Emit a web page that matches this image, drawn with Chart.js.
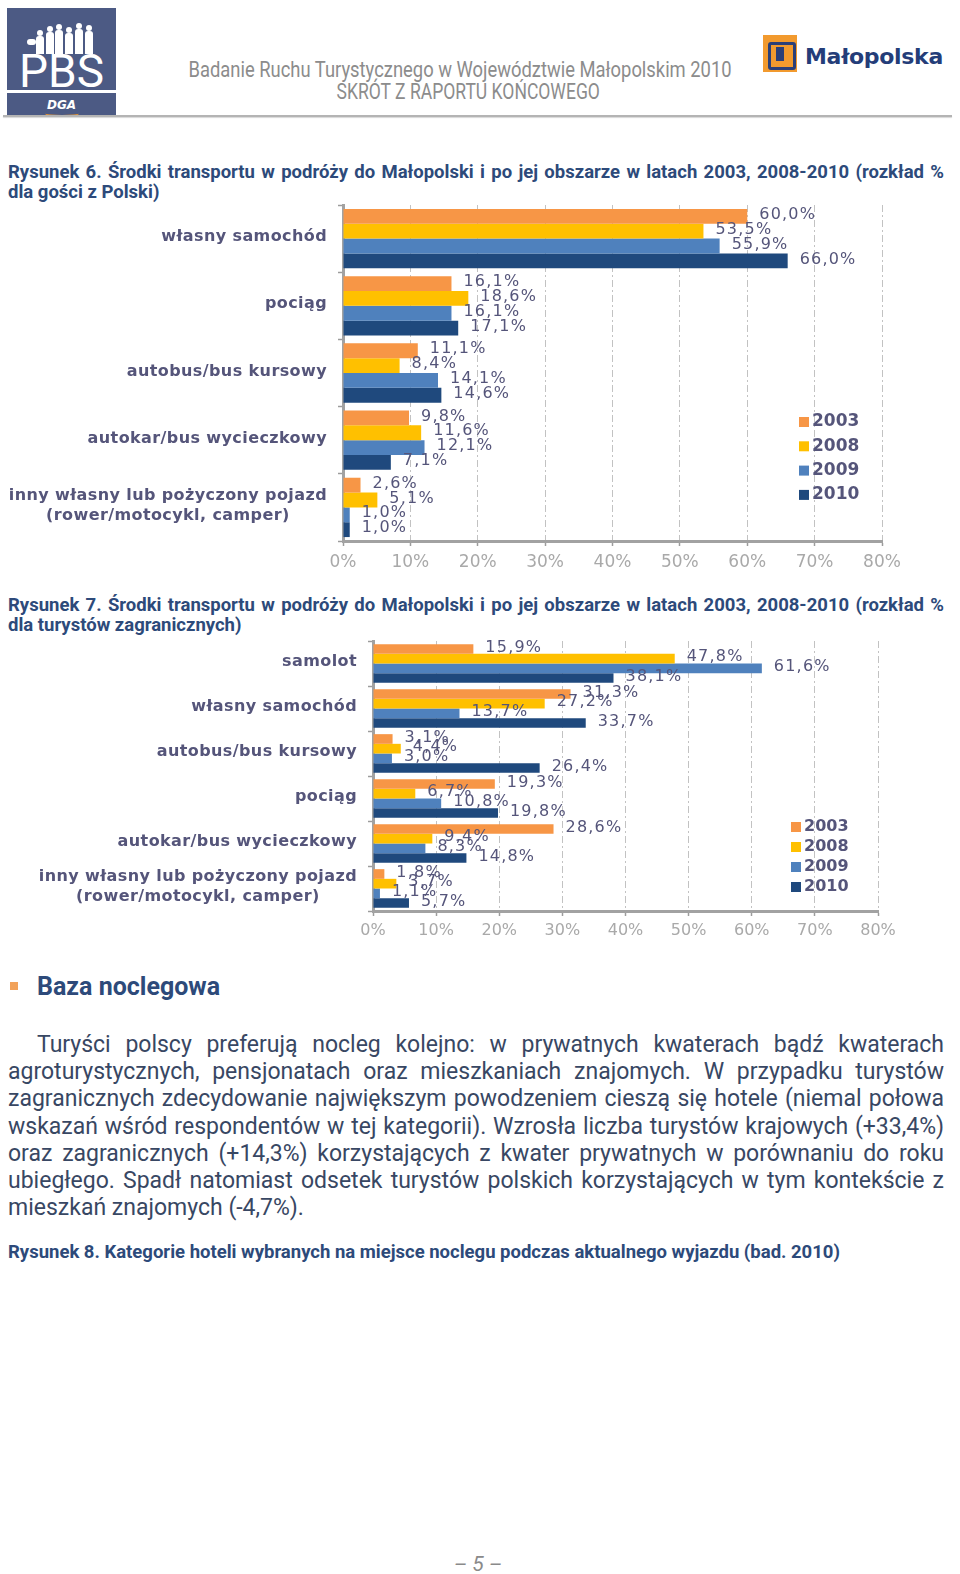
<!DOCTYPE html>
<html lang="pl">
<head>
<meta charset="utf-8">
<title>Badanie Ruchu Turystycznego w Województwie Małopolskim 2010</title>
<script src="https://cdn.jsdelivr.net/npm/chart.js@4.4.1/dist/chart.umd.min.js"></script>
<style>
html, body { margin: 0; padding: 0; background: #fff; }
body { width: 960px; height: 1574px; position: relative; overflow: hidden;
       font-family: "Roboto", "Liberation Sans", sans-serif; }
.abs { position: absolute; }
.hdr { width: 700px; text-align: center; color: #8c8c8c; font-size: 22px; line-height: 22px; }
.fit { display: inline-block; white-space: nowrap; transform-origin: 50% 50%; }
.title { left: 8px; width: 936px; color: #2d4a7a; font-weight: bold; font-size: 18.5px; line-height: 20px; }
.jl { text-align: justify; text-align-last: justify; }
.body { left: 8px; width: 936px; color: #384763; font-size: 23px; line-height: 27.2px; }
.chartbox { left: 0; width: 960px; }
</style>
</head>
<body>

<!-- header -->
<div class="abs" style="left:7px;top:8px;width:109px;height:109px;background:#4c5a84;overflow:hidden;">
  <div class="abs" style="left:18px;top:14px;width:74px;height:32px;">
    <div class="abs" style="left:2px;top:17px;width:9px;height:6px;background:#fff;border-radius:3px;"></div>
    <div class="abs" style="left:12px;top:8px;width:6px;height:6px;background:#fff;border-radius:50%;"></div>
    <div class="abs" style="left:11px;top:14px;width:8px;height:18px;background:#fff;border-radius:3px 3px 0 0;"></div>
    <div class="abs" style="left:22px;top:4px;width:6px;height:6px;background:#fff;border-radius:50%;"></div>
    <div class="abs" style="left:21px;top:10px;width:8px;height:22px;background:#fff;border-radius:3px 3px 0 0;"></div>
    <div class="abs" style="left:31px;top:2px;width:6px;height:6px;background:#fff;border-radius:50%;"></div>
    <div class="abs" style="left:30px;top:8px;width:8px;height:24px;background:#fff;border-radius:3px 3px 0 0;"></div>
    <div class="abs" style="left:41px;top:5px;width:6px;height:6px;background:#fff;border-radius:50%;"></div>
    <div class="abs" style="left:40px;top:11px;width:8px;height:21px;background:#fff;border-radius:3px 3px 0 0;"></div>
    <div class="abs" style="left:51px;top:1px;width:6px;height:6px;background:#fff;border-radius:50%;"></div>
    <div class="abs" style="left:50px;top:7px;width:8px;height:25px;background:#fff;border-radius:3px 3px 0 0;"></div>
    <div class="abs" style="left:61px;top:3px;width:6px;height:6px;background:#fff;border-radius:50%;"></div>
    <div class="abs" style="left:60px;top:9px;width:8px;height:23px;background:#fff;border-radius:3px 3px 0 0;"></div>
  </div>
  <div class="abs" style="left:0;top:38px;width:109px;text-align:center;color:#fff;font-size:46px;line-height:50px;">PBS</div>
  <div class="abs" style="left:0;top:82px;width:109px;height:3px;background:#fff;"></div>
  <div class="abs" style="left:0;top:88px;width:109px;text-align:center;color:#fff;font-family:'DejaVu Sans',sans-serif;font-weight:bold;font-style:italic;font-size:12px;line-height:18px;">DGA</div>
  <div class="abs" style="left:38px;top:102px;width:34px;height:5px;border-bottom:2px solid #f29a2e;border-radius:0 0 50% 50%;"></div>
</div>

<div class="abs hdr" style="left:110px;top:59px;"><span class="fit" data-w="543">Badanie Ruchu Turystycznego w Województwie Małopolskim 2010</span></div>
<div class="abs hdr" style="left:118px;top:81px;"><span class="fit" data-w="263">SKRÓT Z RAPORTU KOŃCOWEGO</span></div>

<div class="abs" style="left:763px;top:35px;width:34px;height:37px;background:#f29a2e;">
  <div class="abs" style="left:5px;top:7px;width:22px;height:22px;border:3px solid #2b3f78;border-radius:3px;"></div>
  <div class="abs" style="left:13px;top:12px;width:8px;height:14px;background:#2b3f78;"></div>
</div>
<div class="abs" style="left:805px;top:41px;color:#243d79;font-family:'DejaVu Sans',sans-serif;font-weight:bold;font-size:22px;line-height:32px;letter-spacing:-0.3px;">Małopolska</div>

<div class="abs" style="left:3px;top:115px;width:949px;height:2px;background:#b4b4b4;box-shadow:0 1px 1px #d8d8d8;"></div>

<!-- figure 6 -->
<div class="abs title" style="top:162px;">
  <div class="jl">Rysunek 6. Środki transportu w podróży do Małopolski i po jej obszarze w latach 2003, 2008-2010 (rozkład %</div>
  <div>dla gości z Polski)</div>
</div>
<div class="abs chartbox" style="top:197px;height:388px;"><canvas id="chartPl"></canvas></div>

<!-- figure 7 -->
<div class="abs title" style="top:595px;">
  <div class="jl">Rysunek 7. Środki transportu w podróży do Małopolski i po jej obszarze w latach 2003, 2008-2010 (rozkład %</div>
  <div>dla turystów zagranicznych)</div>
</div>
<div class="abs chartbox" style="top:633px;height:318px;"><canvas id="chartZg"></canvas></div>

<!-- text -->
<div class="abs" style="left:10px;top:982px;width:8px;height:8px;background:#f2a25a;"></div>
<div class="abs" style="left:37px;top:972px;color:#2d4a7a;font-weight:bold;font-size:25px;line-height:30px;">Baza noclegowa</div>

<div class="abs body" style="top:1031px;">
  <div class="jl" style="text-indent:29px;">Turyści polscy preferują nocleg kolejno: w prywatnych kwaterach bądź kwaterach</div>
  <div class="jl">agroturystycznych, pensjonatach oraz mieszkaniach znajomych. W przypadku turystów</div>
  <div class="jl">zagranicznych zdecydowanie największym powodzeniem cieszą się hotele (niemal połowa</div>
  <div class="jl">wskazań wśród respondentów w tej kategorii). Wzrosła liczba turystów krajowych (+33,4%)</div>
  <div class="jl">oraz zagranicznych (+14,3%) korzystających z kwater prywatnych w porównaniu do roku</div>
  <div class="jl">ubiegłego. Spadł natomiast odsetek turystów polskich korzystających w tym kontekście z</div>
  <div>mieszkań znajomych (-4,7%).</div>
</div>

<div class="abs title" style="top:1242px;">Rysunek 8. Kategorie hoteli wybranych na miejsce noclegu podczas aktualnego wyjazdu (bad. 2010)</div>

<div class="abs" style="left:430px;top:1552px;width:96px;text-align:center;color:#8a8a8a;font-style:italic;font-size:21px;line-height:24px;">– 5 –</div>

<script>
// squeeze header lines to the width they have in the report
document.querySelectorAll('.fit').forEach(function(el) {
    el.style.transform = 'scaleX(' + (el.dataset.w / el.offsetWidth) + ')';
});

// years and colours of the series
var years = ['2003', '2008', '2009', '2010'];
var colors = ['#F79646', '#FFC000', '#4F81BD', '#1F497D'];

// Rysunek 6 - goście z Polski
var plCategories = ['własny samochód', 'pociąg', 'autobus/bus kursowy', 'autokar/bus wycieczkowy',
                    ['inny własny lub pożyczony pojazd', '(rower/motocykl, camper)']];
var pl2003 = [60.0, 16.1, 11.1, 9.8, 2.6];
var pl2008 = [53.5, 18.6, 8.4, 11.6, 5.1];
var pl2009 = [55.9, 16.1, 14.1, 12.1, 1.0];
var pl2010 = [66.0, 17.1, 14.6, 7.1, 1.0];

// Rysunek 7 - turyści zagraniczni
var zgCategories = ['samolot', 'własny samochód', 'autobus/bus kursowy', 'pociąg', 'autokar/bus wycieczkowy',
                    ['inny własny lub pożyczony pojazd', '(rower/motocykl, camper)']];
var zg2003 = [15.9, 31.3, 3.1, 19.3, 28.6, 1.8];
var zg2008 = [47.8, 27.2, 4.4, 6.7, 9.4, 3.7];
var zg2009 = [61.6, 13.7, 3.0, 10.8, 8.3, 1.1];
var zg2010 = [38.1, 33.7, 26.4, 19.8, 14.8, 5.7];

// axis: 0% .. 80% every 10
var axisMax = 80;
var axisStep = 10;

var textColor = '#55557a';
Chart.defaults.font.family = '"DejaVu Sans", Verdana, sans-serif';

function pct(v) {
    return v.toFixed(1).replace('.', ',') + '%';
}

// category labels, value labels and the legend inside the plot
function decor(legendDx, legendDy, legendStep, legendSize) {
    return {
        id: 'decor',
        afterDatasetsDraw: function(chart) {
            var ctx = chart.ctx;
            var area = chart.chartArea;
            var yScale = chart.scales.y;
            ctx.save();

            // category names
            ctx.fillStyle = textColor;
            ctx.font = 'bold 16px "DejaVu Sans"';
            ctx.letterSpacing = '0.4px';
            ctx.textBaseline = 'middle';
            var right = yScale.right - 16;
            chart.data.labels.forEach(function(lab, i) {
                var y = yScale.getPixelForValue(i) - 1.5;
                if (Array.isArray(lab)) {
                    var w = Math.max.apply(null, lab.map(function(l) { return ctx.measureText(l).width; }));
                    ctx.textAlign = 'center';
                    lab.forEach(function(line, j) {
                        ctx.fillText(line, right - w / 2, y + (j - (lab.length - 1) / 2) * 20);
                    });
                } else {
                    ctx.textAlign = 'right';
                    ctx.fillText(lab, right, y);
                }
            });

            // values next to bars
            ctx.font = '16px "DejaVu Sans"';
            ctx.letterSpacing = '1.2px';
            ctx.textAlign = 'left';
            chart.data.datasets.forEach(function(ds, i) {
                chart.getDatasetMeta(i).data.forEach(function(bar, j) {
                    ctx.fillText(pct(ds.data[j]), bar.x + 12, bar.y - 1.5);
                });
            });

            // legend
            ctx.font = 'bold ' + legendSize + 'px "DejaVu Sans"';
            ctx.letterSpacing = '0px';
            chart.data.datasets.forEach(function(ds, i) {
                var lx = area.right + legendDx;
                var ly = area.top + legendDy + i * legendStep;
                ctx.fillStyle = ds.backgroundColor;
                ctx.fillRect(lx, ly - 5, 10, 10);
                ctx.fillStyle = textColor;
                ctx.fillText(ds.label, lx + 13, ly);
            });
            ctx.restore();
        }
    };
}

function makeChart(id, labels, series, opt) {
    return new Chart(document.getElementById(id), {
        type: 'bar',
        data: {
            labels: labels,
            datasets: series.map(function(s, i) {
                return {
                    label: years[i],
                    data: s,
                    backgroundColor: colors[i],
                    borderWidth: 0,
                    categoryPercentage: opt.catPct,
                    barPercentage: 1.0
                };
            })
        },
        options: {
            indexAxis: 'y',
            responsive: true,
            maintainAspectRatio: false,
            animation: false,
            layout: { padding: opt.padding },
            plugins: { legend: { display: false }, tooltip: { enabled: false } },
            scales: {
                x: {
                    min: 0,
                    max: axisMax,
                    ticks: {
                        stepSize: axisStep,
                        callback: function(v) { return v + '%'; },
                        color: '#a9a9a9',
                        font: { size: opt.tickSize },
                        padding: opt.tickPad
                    },
                    grid: { color: '#c2c2c2', lineWidth: 1, tickLength: 5, tickColor: '#9c9c9c', tickWidth: 1.5 },
                    border: { color: '#a2a2a2', width: 3, dash: [7, 3, 2, 3] },
                    afterFit: function(s) { s.height = 36; }
                },
                y: {
                    ticks: { display: false },
                    grid: { drawOnChartArea: false, tickLength: 5, tickColor: '#9c9c9c', tickWidth: 1.5 },
                    border: { color: '#a2a2a2', width: 3 },
                    afterFit: function(s) { s.width = opt.axisLeft; }
                }
            }
        },
        plugins: [decor(opt.legendDx, opt.legendDy, opt.legendStep, opt.legendSize)]
    });
}

makeChart('chartPl', plCategories, [pl2003, pl2008, pl2009, pl2010], {
    catPct: 0.883,
    padding: { left: 0, right: 78, top: 8, bottom: 8 },
    axisLeft: 343,
    tickSize: 17,
    tickPad: 6,
    legendDx: -83,
    legendDy: 217,
    legendStep: 24.3,
    legendSize: 17
});

makeChart('chartZg', zgCategories, [zg2003, zg2008, zg2009, zg2010], {
    catPct: 0.86,
    padding: { left: 0, right: 82, top: 8, bottom: 4 },
    axisLeft: 373,
    tickSize: 16,
    tickPad: 5,
    legendDx: -87,
    legendDy: 186,
    legendStep: 20,
    legendSize: 16
});
</script>
</body>
</html>
